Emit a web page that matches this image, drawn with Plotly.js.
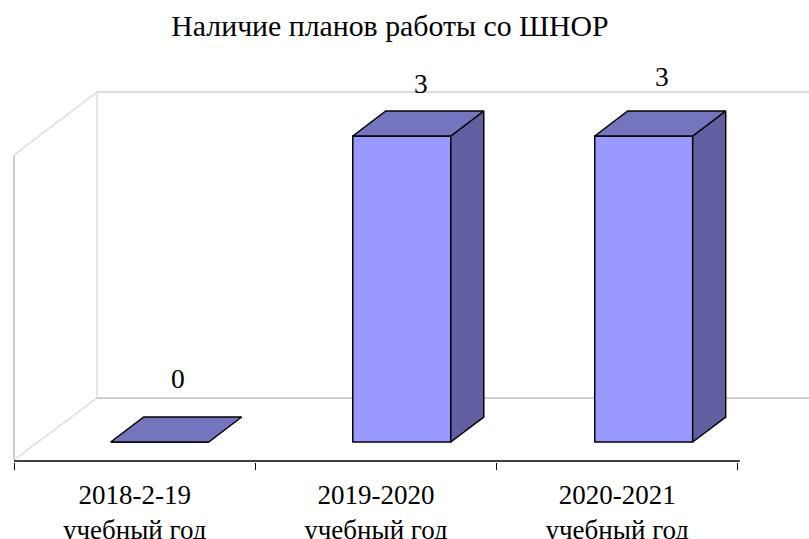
<!DOCTYPE html>
<html><head><meta charset="utf-8">
<script src="https://cdn.plot.ly/plotly-3.0.1.min.js"></script>
<style>html,body{margin:0;padding:0;background:#fff;overflow:hidden}</style>
</head><body><div id="chart" style="width:809px;height:539px"></div>
<script>
const categories = ['2018-2-19<br>учебный год', '2019-2020<br>учебный год', '2020-2021<br>учебный год'];
const values = [0, 3, 3];
const labelX = [0.68, 1.687, 2.686];
const labelY = [0.618, 3.51, 3.579];
const titleText = 'Наличие планов работы со ШНОР';

const FONT = '"Liberation Serif","Times New Roman",serif';
const barCenters = [0.6038, 1.607, 2.6096], barWidth = 0.406;
const depthX = 0.1368, depthY = 0.245;
const wallX = 0.344, wallBase = 0.431, wallTop = 3.431, leftTop = 2.814, floorFront = -0.176, rightEnd = 3.2946;

const traces = [{
  type: 'bar', x: barCenters, y: values, width: barWidth,
  marker: {color: '#9999FF', line: {color: '#000', width: 1.5}},
  hoverinfo: 'skip', showlegend: false
}];
function poly(xs, ys, color) {
  traces.push({type: 'scatter', mode: 'lines', x: xs, y: ys, fill: 'toself', fillcolor: color,
    line: {color: '#000', width: 1.5}, hoverinfo: 'skip', showlegend: false, cliponaxis: false});
}
values.forEach((v, i) => {
  const l = barCenters[i] - barWidth / 2, r = barCenters[i] + barWidth / 2;
  if (v > 0) poly([r, r + depthX, r + depthX, r, r], [0, depthY, v + depthY, v, 0], '#6060A0');
  poly([l, r, r + depthX, l + depthX, l], [v, v, v + depthY, v + depthY, v], '#7474BF');
});
// category axis line
traces.push({type: 'scatter', mode: 'lines', x: [0, 3.008], y: [-0.186, -0.186],
  line: {color: '#000', width: 1.6}, hoverinfo: 'skip', showlegend: false, cliponaxis: false});

function wall(x0, y0, x1, y1, w, color) {
  return {type: 'line', layer: 'below', xref: 'x', yref: 'y', x0, y0, x1, y1, line: {color, width: w}};
}
const shapes = [
  wall(0, floorFront, 0, leftTop, 1.6, '#c4c4c4'),
  wall(0, leftTop, wallX, wallTop, 1.4, '#dadada'),
  wall(0, floorFront, wallX, wallBase, 1.4, '#dadada'),
  wall(wallX, wallBase, wallX, wallTop, 1.4, '#dcdcdc'),
  wall(wallX, wallTop, rightEnd, wallTop, 1.4, '#cfcfcf'),
  wall(wallX, wallBase, rightEnd, wallBase, 1.8, '#c8c8c8')
];

const annotations = values.map((v, i) => ({
  x: labelX[i], y: labelY[i], xref: 'x', yref: 'y', text: String(v), showarrow: false,
  xanchor: 'center', yanchor: 'middle', font: {family: FONT, size: 27.5, color: '#000'}
}));

Plotly.newPlot('chart', traces, {
  width: 809, height: 539,
  margin: {l: 8, r: 0, t: 40, b: 77, pad: 0},
  paper_bgcolor: '#fff', plot_bgcolor: '#fff',
  showlegend: false, hovermode: false, barmode: 'overlay',
  title: {text: titleText, x: 390 / 809, xref: 'container', xanchor: 'center', y: 1 - 26 / 539, yref: 'container', yanchor: 'middle',
    font: {family: FONT, size: 29.8, color: '#000'}},
  xaxis: {range: [-0.02486, rightEnd], tickmode: 'array', tickvals: [0.5, 1.5, 2.5], ticktext: categories,
    ticks: '', showgrid: false, zeroline: false, showline: false, ticklabelstandoff: 14,
    tickfont: {family: FONT, size: 27, color: '#000'},
    minor: {tickmode: 'array', tickvals: [0, 1, 2, 3], ticks: 'outside', ticklen: 7, tickwidth: 1, tickcolor: '#000', showgrid: false}},
  yaxis: {range: [-0.196, 3.941], showticklabels: false, ticks: '', showgrid: false, zeroline: false, showline: false},
  shapes, annotations
}, {displayModeBar: false, staticPlot: true});
</script></body></html>
